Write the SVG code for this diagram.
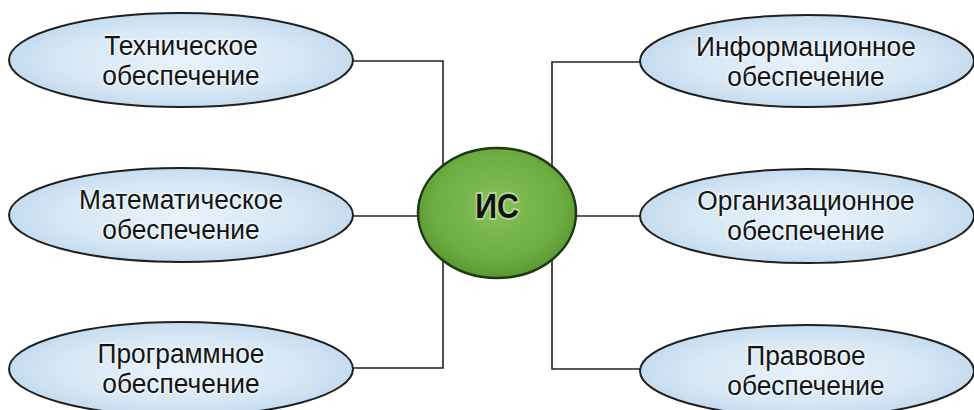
<svg xmlns="http://www.w3.org/2000/svg" width="974" height="410" viewBox="0 0 974 410">
<defs>
<radialGradient id="gBlue" cx="50%" cy="50%" r="50%">
<stop offset="0%" stop-color="#e8f2fb"/>
<stop offset="70%" stop-color="#d6e7f5"/>
<stop offset="100%" stop-color="#c5dcef"/>
</radialGradient>
<radialGradient id="gGreen" cx="50%" cy="45%" r="55%">
<stop offset="0%" stop-color="#86c25a"/>
<stop offset="75%" stop-color="#6cac41"/>
<stop offset="100%" stop-color="#5a9733"/>
</radialGradient>
<style>
.sat{fill:url(#gBlue);stroke:#1f1f1f;stroke-width:2}
.core{fill:url(#gGreen);stroke:#1c3a0e;stroke-width:2.5}
.lbl{font-family:"Liberation Sans",Arial,sans-serif;font-size:28px;fill:#141414;text-anchor:middle;stroke:#f2f8fd;stroke-width:3;stroke-opacity:0.7;paint-order:stroke}
.ctr{font-family:"Liberation Sans",Arial,sans-serif;font-size:36px;font-weight:bold;fill:#111;text-anchor:middle;stroke:#cfeab8;stroke-width:4;stroke-opacity:0.6;paint-order:stroke}
.conn{fill:none;stroke:#222;stroke-width:1.6}
</style>
</defs>
<rect width="974" height="410" fill="#ffffff"/>
<g id="connectors">
<polyline class="conn" points="353,61 443,61 443,368 353,368"/>
<line class="conn" x1="353" y1="216" x2="418" y2="216"/>
<polyline class="conn" points="640,62 552,62 552,369 640,369"/>
<line class="conn" x1="577" y1="216" x2="640" y2="216"/>
</g>
<g id="node-tech">
<ellipse class="sat" cx="181" cy="60" rx="172" ry="47"/>
<text class="lbl" transform="translate(181 55) scale(0.94 1)"><tspan x="0" y="0">Техническое</tspan><tspan x="0" y="30">обеспечение</tspan></text>
</g>
<g id="node-math">
<ellipse class="sat" cx="181" cy="215" rx="172" ry="47"/>
<text class="lbl" transform="translate(181 209) scale(0.94 1)"><tspan x="0" y="0">Математическое</tspan><tspan x="0" y="30">обеспечение</tspan></text>
</g>
<g id="node-prog">
<ellipse class="sat" cx="181" cy="369" rx="172" ry="47"/>
<text class="lbl" transform="translate(181 363) scale(0.94 1)"><tspan x="0" y="0">Программное</tspan><tspan x="0" y="30">обеспечение</tspan></text>
</g>
<g id="node-info">
<ellipse class="sat" cx="807" cy="61" rx="167" ry="46"/>
<text class="lbl" transform="translate(806 56) scale(0.94 1)"><tspan x="0" y="0">Информационное</tspan><tspan x="0" y="30">обеспечение</tspan></text>
</g>
<g id="node-org">
<ellipse class="sat" cx="807" cy="216" rx="167" ry="47"/>
<text class="lbl" transform="translate(806 210) scale(0.94 1)"><tspan x="0" y="0">Организационное</tspan><tspan x="0" y="30">обеспечение</tspan></text>
</g>
<g id="node-legal">
<ellipse class="sat" cx="807" cy="371" rx="167" ry="46"/>
<text class="lbl" transform="translate(806 365) scale(0.94 1)"><tspan x="0" y="0">Правовое</tspan><tspan x="0" y="30">обеспечение</tspan></text>
</g>
<g id="node-is">
<ellipse class="core" cx="497" cy="213" rx="79" ry="65"/>
<text class="ctr" transform="translate(497 218) scale(0.84 1)">ИС</text>
</g>
</svg>
